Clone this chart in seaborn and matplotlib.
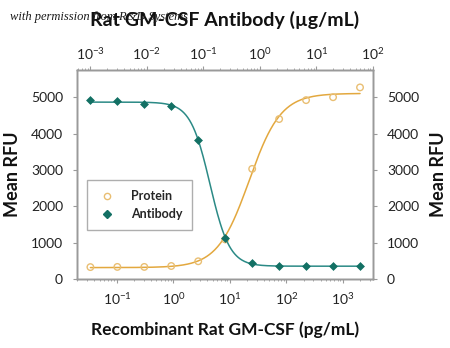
import numpy as np
import pandas as pd
import matplotlib
matplotlib.use("Agg")
import matplotlib.pyplot as plt
from matplotlib.lines import Line2D
import seaborn as sns

# Recombinant protein dose series (pg/mL) and response
protein_conc = [0.0339, 0.1016, 0.305, 0.914, 2.74, 8.23, 24.7, 74.1, 222, 667, 2000]
protein_rfu = [330, 335, 335, 360, 490, 1090, 3030, 4400, 4920, 5000, 5270]

# Neutralizing antibody dose series (ug/mL) and response
antibody_conc = [0.001, 0.003, 0.009, 0.027, 0.081, 0.243, 0.729, 2.19, 6.56, 19.7, 59.0]
antibody_rfu = [4920, 4890, 4810, 4750, 3825, 1120, 440, 355, 355, 355, 355]

y_ticks = [0, 1000, 2000, 3000, 4000, 5000]

ORANGE_LINE = "#E3A83E"
ORANGE_MARK = "#E9BE72"
TEAL_LINE = "#2B8A86"
TEAL_MARK = "#137064"
SPINE = "#9a9a9a"

sns.set_theme(style="white")
FONT = ["Lato", "DejaVu Sans"]
plt.rcParams["font.family"] = FONT
plt.rcParams["mathtext.fontset"] = "custom"
plt.rcParams["mathtext.rm"] = "Lato"
plt.rcParams["mathtext.it"] = "Lato:italic"
plt.rcParams["mathtext.bf"] = "Lato:bold"


def four_pl(x, bottom, top, ec50, hill):
    return bottom + (top - bottom) / (1.0 + (x / ec50) ** (-hill))


def fit_four_pl(x, y):
    """Least-squares 4PL fit: grid over EC50/Hill, linear solve for bottom/top."""
    x = np.asarray(x, float)
    y = np.asarray(y, float)
    best = None
    lx = np.log10(x)
    for log_ec in np.linspace(lx.min(), lx.max(), 400):
        for hill in np.concatenate([np.linspace(-4, -0.3, 75), np.linspace(0.3, 4, 75)]):
            s = 1.0 / (1.0 + (x / 10 ** log_ec) ** (-hill))
            A = np.column_stack([1 - s, s])
            coef, *_ = np.linalg.lstsq(A, y, rcond=None)
            err = np.sum((A @ coef - y) ** 2)
            if best is None or err < best[0]:
                best = (err, coef[0], coef[1], 10 ** log_ec, hill)
    return best[1:]


protein_df = pd.DataFrame({"conc": protein_conc, "rfu": protein_rfu})
antibody_df = pd.DataFrame({"conc": antibody_conc, "rfu": antibody_rfu})

p_fit = fit_four_pl(protein_conc, protein_rfu)
a_fit = fit_four_pl(antibody_conc, antibody_rfu)

xlim_pg = (0.0196, 3400)
pg_per_ug_axis = 33.9  # alignment between the two concentration axes
xlim_ug = (xlim_pg[0] / pg_per_ug_axis, xlim_pg[1] / pg_per_ug_axis)

p_grid = np.logspace(np.log10(protein_conc[0]), np.log10(protein_conc[-1]), 300)
a_grid = np.logspace(np.log10(antibody_conc[0]), np.log10(antibody_conc[-1]), 300)
p_curve = pd.DataFrame({"conc": p_grid, "rfu": four_pl(p_grid, *p_fit)})
a_curve = pd.DataFrame({"conc": a_grid, "rfu": four_pl(a_grid, *a_fit)})

fig = plt.figure(figsize=(4.5, 3.48), dpi=100)
ax = fig.add_axes([0.171, 0.198, 0.658, 0.601])
ax.set_xscale("log")

sns.lineplot(data=p_curve, x="conc", y="rfu", ax=ax, color=ORANGE_LINE, lw=1.1, zorder=2)
sns.scatterplot(data=protein_df, x="conc", y="rfu", ax=ax, marker="o", s=22,
                facecolor="none", edgecolor=ORANGE_MARK, linewidth=1.0, zorder=3)

ax.set_xlim(*xlim_pg)
ax.set_ylim(0, 5750)
ax.set_yticks(y_ticks)

axt = ax.twiny()
axt.set_xscale("log")
sns.lineplot(data=a_curve, x="conc", y="rfu", ax=axt, color=TEAL_LINE, lw=1.1, zorder=2)
sns.scatterplot(data=antibody_df, x="conc", y="rfu", ax=axt, marker="D", s=16,
                color=TEAL_MARK, edgecolor=TEAL_MARK, linewidth=0.5, zorder=3)
axt.set_xlim(*xlim_ug)
axt.set_ylim(0, 5750)

axr = ax.twinx()
axr.set_ylim(0, 5750)
axr.set_yticks(y_ticks)

for a in (ax, axt, axr):
    for sp in a.spines.values():
        sp.set_color(SPINE)
        sp.set_linewidth(1.0)

tick_kw = dict(colors=SPINE, labelcolor="#222222", labelsize=10)
ax.tick_params(axis="x", which="major", direction="out", length=3, width=0.8, pad=6, **tick_kw)
ax.tick_params(axis="x", which="minor", direction="out", length=1.5, width=0.6, colors=SPINE)
ax.tick_params(axis="y", direction="out", length=3, width=0.8, pad=7, **tick_kw)
axt.tick_params(axis="x", which="major", direction="out", length=3, width=0.8, pad=3, **tick_kw)
axt.tick_params(axis="x", which="minor", direction="out", length=1.5, width=0.6, colors=SPINE)
axr.tick_params(axis="y", direction="out", length=3, width=0.8, pad=7, **tick_kw)

label_kw = dict(fontweight="bold", color="#111111")
ax.set_xlabel("Recombinant Rat GM-CSF (pg/mL)", labelpad=10, fontsize=12.5, **label_kw)
ax.set_ylabel("Mean RFU", labelpad=7, fontsize=13, **label_kw)
axt.set_xlabel("Rat GM-CSF Antibody (\u00b5g/mL)", labelpad=14, fontsize=14, **label_kw)
axr.set_ylabel("Mean RFU", rotation=90, labelpad=8, fontsize=13, **label_kw)

handles = [
    Line2D([], [], ls="none", marker="o", ms=4.5, mfc="none", mec=ORANGE_MARK, mew=1.0),
    Line2D([], [], ls="none", marker="D", ms=4, mfc=TEAL_MARK, mec=TEAL_MARK),
]
leg = axt.legend(handles, ["Protein", "Antibody"], loc="upper left",
                 bbox_to_anchor=(0.034, 0.474), frameon=True, fancybox=False,
                 prop={"family": FONT, "weight": "bold", "size": 9},
                 handletextpad=1.1, borderpad=0.8, labelspacing=0.5,
                 handlelength=1.6, borderaxespad=0)
leg.get_frame().set_edgecolor("#9a9a9a")
leg.get_frame().set_linewidth(1.0)

fig.text(0.022, 0.952, "with permission from R&D Systems", fontsize=9,
         family=["Liberation Serif", "DejaVu Serif"], style="italic",
         color="#1a1a1a", ha="left", va="center", zorder=10)

fig.savefig("out.png", dpi=100, facecolor="white")
